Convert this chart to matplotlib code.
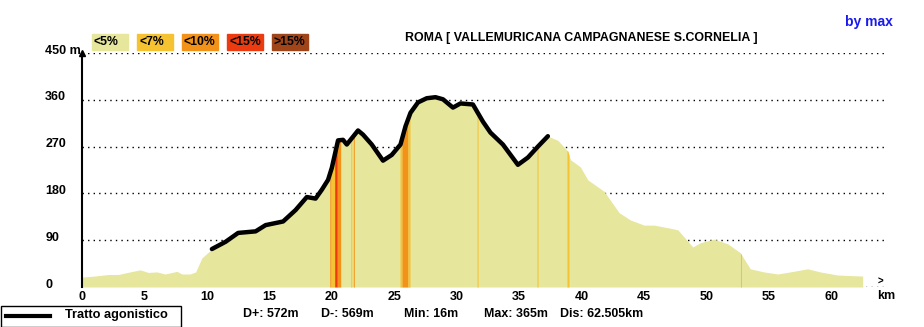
import matplotlib
matplotlib.use('Agg')
import matplotlib.pyplot as plt
import matplotlib.transforms as mtransforms
from matplotlib.patches import Rectangle
import numpy as np

# elevation profile (km, m)
km = [0.0, 1.0, 2.1, 2.9, 3.85, 4.65, 5.3, 6.0, 6.65, 7.6, 8.0, 8.65, 9.1, 9.6,
      10.4, 11.5, 12.5, 13.9, 14.7, 16.1, 17.1, 18.0, 18.7, 19.2, 19.7, 20.0,
      20.5, 20.9, 21.2, 21.7, 22.1, 22.5, 23.2, 24.1, 24.8, 25.5, 25.9, 26.3,
      26.9, 27.6, 28.3, 28.9, 29.7, 30.3, 31.3, 32.1, 32.7, 33.7, 34.9, 35.7,
      36.5, 37.3, 38.1, 38.9, 39.1, 39.9, 40.5, 41.8, 43.0, 43.9, 45.0, 45.8,
      46.9, 47.7, 48.9, 49.5, 50.6, 51.7, 52.7, 53.5, 54.6, 55.7, 56.7, 58.1,
      59.1, 60.5, 62.505]
elev = [19, 21, 24, 24, 29, 33, 28, 29, 25, 30, 25, 25, 29, 56,
        73, 87, 104, 107, 119, 126, 148, 173, 170, 187, 206, 229,
        282, 283, 274, 289, 301, 293, 274, 243, 254, 274, 309, 335,
        355, 363, 365, 361, 345, 353, 351, 318, 297, 274, 235, 249,
        270, 290, 282, 261, 245, 231, 206, 184, 143, 129, 119, 119,
        114, 110, 77, 85, 92, 83, 66, 35, 29, 25, 29, 35,
        29, 23, 21]

agon_start = 10.4
agon_end = 37.3

# gradient classes
grade_labels = ['<5%', '<7%', '<10%', '<15%', '>15%']
grade_colors = ['#E6E69C', '#F5C232', '#F39218', '#EC3B10', '#A0441A']

# steeper stretches: start km, end km, class index
seg_start = [19.84, 19.98, 20.23, 20.44, 21.52, 21.72, 25.46, 25.62, 26.10,
             31.63, 36.43, 38.83, 52.72]
seg_end = [19.94, 20.23, 20.44, 20.71, 21.60, 21.80, 25.62, 26.10, 26.26,
           31.71, 36.51, 38.99, 52.80]
seg_class = [2, 1, 3, 2, 1, 2, 1, 2, 1, 1, 1, 1, 1]

xticks = [0, 5, 10, 15, 20, 25, 30, 35, 40, 45, 50, 55, 60]
yticks = [0, 90, 180, 270, 360, 450]
ytick_labels = ['0', '90', '180', '270', '360', '450 m']

title = 'ROMA [ VALLEMURICANA CAMPAGNANESE S.CORNELIA ]'
stats = ['D+: 572m', 'D-: 569m', 'Min: 16m', 'Max: 365m', 'Dis: 62.505km']
stats_x = [243, 321, 404, 484, 560]

plt.rcParams['font.family'] = ['Liberation Sans', 'DejaVu Sans']
plt.rcParams['font.weight'] = 'bold'

W, H = 924, 327
fig = plt.figure(figsize=(W / 100., H / 100.), dpi=100)
px_km = 12.49
x0, x1, ybot, ytop = 82, 884, 287, 53
ax = fig.add_axes([x0 / W, (H - ybot) / H, (x1 - x0) / W, (ybot - ytop) / H])
ax.set_xlim(0, (x1 - x0) / px_km)
ax.set_ylim(0, 450)

km = np.array(km)
elev = np.array(elev)

ax.fill_between(km, 0, elev, color=grade_colors[0], lw=0, zorder=2)
for s, e, c in zip(seg_start, seg_end, seg_class):
    xs = np.linspace(s, e, 6)
    ax.fill_between(xs, 0, np.interp(xs, km, elev), color=grade_colors[c],
                    lw=0, zorder=3)

m = (km >= agon_start) & (km <= agon_end)
ax.plot(km[m], elev[m], color='k', lw=3.2, solid_joinstyle='round',
        solid_capstyle='round', zorder=4)

ax.set_yticks(yticks)
ax.set_yticklabels(ytick_labels)
ax.grid(axis='y', color='k', linestyle=(0, (1, 3)), lw=1, zorder=1)
ax.set_axisbelow(True)
ax.set_xticks(xticks)
ax.tick_params(axis='x', length=0, pad=3, labelsize=9)
ax.tick_params(axis='y', length=0, pad=26.5, labelsize=9)
for lab in ax.get_yticklabels():
    lab.set_horizontalalignment('left')
    lab.set_transform(lab.get_transform() +
                      mtransforms.ScaledTranslation(0, 4 / 100., fig.dpi_scale_trans))
for sp in ['top', 'right', 'bottom']:
    ax.spines[sp].set_visible(False)
ax.spines['left'].set_linewidth(1.5)
ax.plot(0, 450, marker='^', ms=4, color='k', clip_on=False, zorder=5)
ax.text(63.95, 1, '>', fontsize=7, ha='center', va='bottom', clip_on=False)
fig.text(886 / W, 1 - 296 / H, 'km', fontsize=9, ha='center', va='center')

# grade legend
box_x = [92, 137, 182, 227, 272]
for bx, lab, col in zip(box_x, grade_labels, grade_colors):
    fig.patches.append(Rectangle((bx / W, 1 - 50 / H), 36 / W, 16 / H,
                                 transform=fig.transFigure, color=col))
    fig.text((bx + 2) / W, 1 - 42 / H, lab, fontsize=8.8, ha='left', va='center')

fig.text(581 / W, 1 - 38 / H, title, fontsize=8.9, ha='center', va='center')
fig.text(869 / W, 1 - 22 / H, 'by max', fontsize=10, color='#1A1AEE',
         ha='center', va='center')

# bottom legend and stats
fig.patches.append(Rectangle((0.5 / W, 0.5 / H), 180 / W, 21 / H, fill=False,
                             ec='k', lw=1, transform=fig.transFigure))
fig.lines.append(plt.Line2D([6 / W, 50 / W], [1 - 316 / H, 1 - 316 / H],
                            color='k', lw=3, transform=fig.transFigure))
fig.text(65 / W, 1 - 315 / H, 'Tratto agonistico', fontsize=9.2, va='center')
for sx, st in zip(stats_x, stats):
    fig.text(sx / W, 1 - 314 / H, st, fontsize=8.9, va='center')

fig.savefig('out.png', dpi=100)
